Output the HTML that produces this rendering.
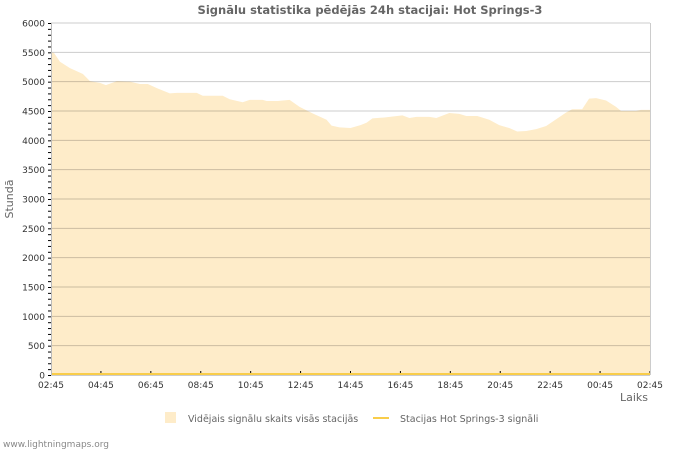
<!DOCTYPE html>
<html><head><meta charset="utf-8"><style>
body{margin:0;background:#fff;}
svg{display:block;font-family:"DejaVu Sans","Liberation Sans",sans-serif;}
</style></head><body>
<svg id="c" width="700" height="450">
<text x="370" y="14" text-anchor="middle" font-size="11.5" font-weight="bold" fill="#666">Signālu statistika pēdējās 24h stacijai: Hot Springs-3</text>
<text x="13" y="199" text-anchor="middle" font-size="11" fill="#666" transform="rotate(-90 13 199)">Stundā</text>
<text x="648" y="401" text-anchor="end" font-size="11" fill="#666">Laiks</text>
<g id="plot"></g>
<g>
<rect x="165" y="412" width="11" height="11" fill="#feecc9"/>
<text x="188" y="422" font-size="9.5" fill="#666">Vidējais signālu skaits visās stacijās</text>
<rect x="373" y="417" width="16" height="2" fill="#f9cd4a"/>
<text x="400" y="422" font-size="9.5" fill="#666">Stacijas Hot Springs-3 signāli</text>
</g>
<text x="3" y="447" font-size="9" fill="#888">www.lightningmaps.org</text>
</svg>
<script>
const hours=[0,0.12,0.36,0.76,1.28,1.56,1.96,2.2,2.64,3.16,3.56,3.88,4.24,4.76,5.04,5.84,6.08,6.88,7.16,7.68,7.96,8.48,8.64,9.08,9.56,9.96,10.48,11.04,11.24,11.56,12,12.4,12.64,12.88,13.36,14.08,14.36,14.64,15.16,15.44,15.96,16.36,16.64,17.08,17.56,17.96,18.36,18.68,19.04,19.44,19.84,20.24,20.64,20.88,21.28,21.56,21.84,22.24,22.64,22.84,23.44,23.64,24];
const avgValues=[5500,5490,5340,5230,5130,5010,4980,4940,5010,5000,4960,4960,4890,4800,4810,4810,4760,4760,4700,4650,4690,4690,4670,4670,4690,4570,4460,4350,4250,4220,4210,4260,4300,4375,4390,4425,4380,4400,4400,4380,4465,4450,4415,4415,4350,4260,4210,4150,4160,4190,4245,4360,4475,4530,4530,4710,4720,4680,4570,4500,4500,4520,4520];
const stationValues=[0,0];
const stationHours=[0,24];
const yTicks=[0,500,1000,1500,2000,2500,3000,3500,4000,4500,5000,5500,6000];
const xLabels=["02:45","04:45","06:45","08:45","10:45","12:45","14:45","16:45","18:45","20:45","22:45","00:45","02:45"];
const NS="http://www.w3.org/2000/svg";
const X0=51,X1=650,Y0=375,Y1=23,YMAX=6000;
const xs=h=>X0+h/24*(X1-X0);
const ys=v=>Y0-v/YMAX*(Y0-Y1);
const plot=document.getElementById('plot');
function mk(t,a){const e=document.createElementNS(NS,t);for(const k in a)e.setAttribute(k,a[k]);plot.appendChild(e);return e;}
let d=`M${xs(hours[0])},${ys(0)}`;
hours.forEach((h,i)=>{d+=` L${xs(h)},${ys(avgValues[i])}`;});
d+=` L${xs(hours[hours.length-1])},${ys(0)} Z`;
const area=mk('path',{d:d,fill:'#feecc9'});


yTicks.forEach(v=>{
 if(v>0){const g=mk('line',{x1:X0,x2:X1,y1:ys(v),y2:ys(v),stroke:'rgba(0,0,0,0.2)','stroke-width':1});
 
 }
 const t=mk('text',{x:X0-6,y:ys(v)+3.5,'text-anchor':'end','font-size':9,fill:'#333'});
 t.textContent=v;
 
 
});
for(let v=0;v<=YMAX;v+=100){mk('line',{x1:X0-3,x2:X0,y1:ys(v)+0.5,y2:ys(v)+0.5,stroke:'#000','stroke-width':1});}
xLabels.forEach((l,i)=>{
 const t=mk('text',{x:xs(i*2),y:Y0+13,'text-anchor':'middle','font-size':9,fill:'#333'});
 t.textContent=l;
 
 
});
for(let h=1;h<=24;h++){mk('line',{x1:xs(h),x2:xs(h),y1:Y0,y2:Y0-(h%2==0?4:2),stroke:'#000','stroke-width':1});}
const sl=mk('polyline',{points:stationHours.map((h,i)=>xs(h)+','+(ys(stationValues[i])-1)).join(' '),fill:'none',stroke:'#f9cd4a','stroke-width':2});


mk('line',{x1:X0+0.5,x2:X0+0.5,y1:Y1,y2:Y0,stroke:'#bbb','stroke-width':1});
mk('line',{x1:X1+0.5,x2:X1+0.5,y1:Y1,y2:Y0,stroke:'#ccc','stroke-width':1});
mk('line',{x1:X0,x2:X1,y1:Y0+0.5,y2:Y0+0.5,stroke:'#ccc','stroke-width':1});
</script>
</body></html>
